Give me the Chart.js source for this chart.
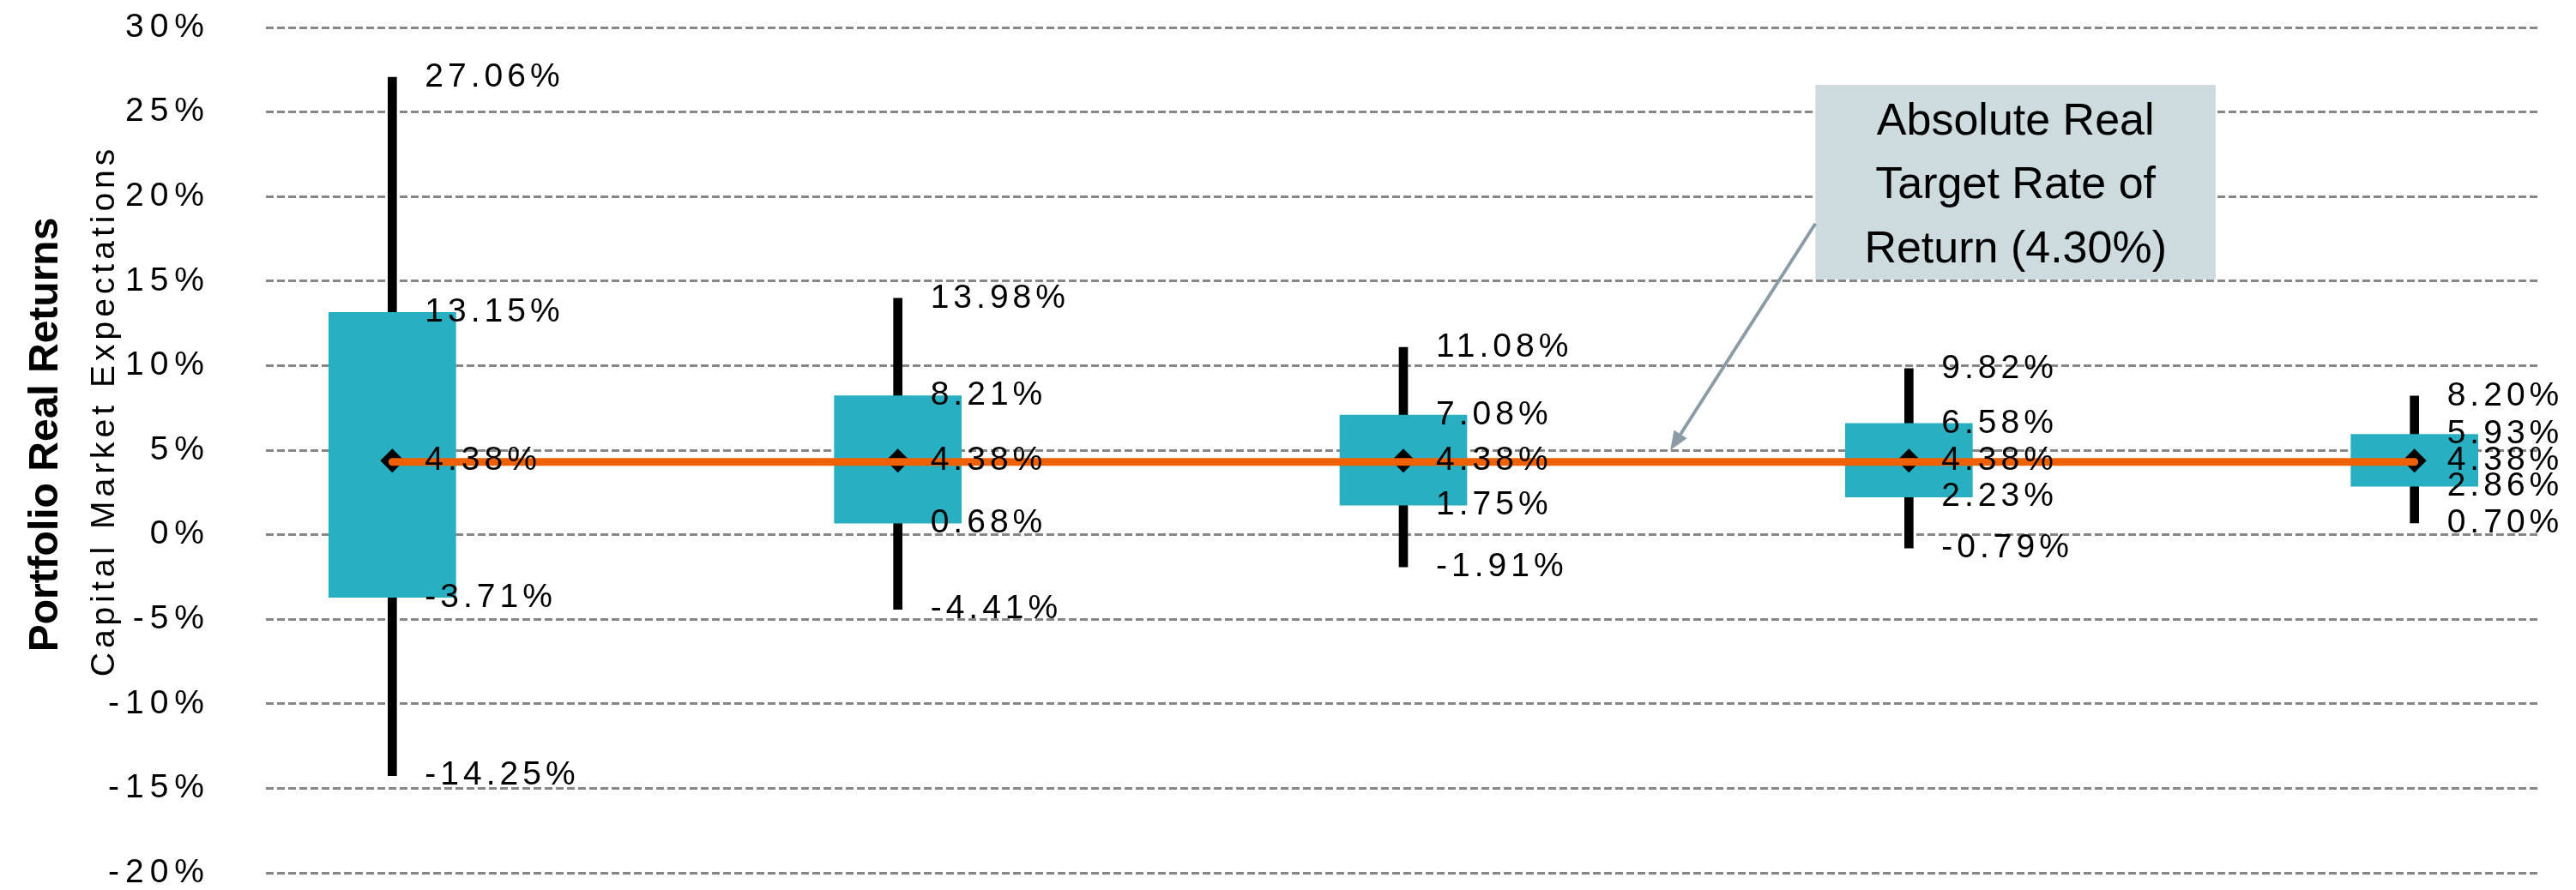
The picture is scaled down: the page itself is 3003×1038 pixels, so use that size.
<!DOCTYPE html>
<html lang="en">
<head>
  <meta charset="UTF-8">
  <title>Portfolio Real Returns</title>
  <script src="https://cdn.jsdelivr.net/npm/chart.js"></script>
  <style>
    html, body { margin: 0; padding: 0; background: #fff; }
  </style>
</head>
<body>

<canvas id="myChart" width="3003" height="1038"></canvas>

<script>
  // one box per column, all values in %
  var positions = [0, 1, 2, 3, 4];
  var maxValues = [27.06, 13.98, 11.08, 9.82, 8.20];
  var q3Values = [13.15, 8.21, 7.08, 6.58, 5.93];
  var meanValues = [4.38, 4.38, 4.38, 4.38, 4.38];
  var q1Values = [-3.71, 0.68, 1.75, 2.23, 2.86];
  var minValues = [-14.25, -4.41, -1.91, -0.79, 0.70];
  var targetRate = 4.30;
  var yTicks = [-20, -15, -10, -5, 0, 5, 10, 15, 20, 25, 30];
  var noteLines = ['Absolute Real', 'Target Rate of', 'Return (4.30%)'];

  // callout box + arrow, in data units
  var note = { x0: 2.815, x1: 3.607, yTop: 26.6, yBottom: 15.1, fromX: 2.815, fromY: 18.4, toX: 2.528, toY: 5.0 };
  // the axis titles sit a bit above the middle of the plot (px)
  var titleShift = { y2: -18, y3: -46 };

  var fontFamily = '"Liberation Sans", Arial, sans-serif';
  Chart.defaults.font.family = fontFamily;
  Chart.defaults.color = '#000';

  // loose letter spacing on the axis text, none on the bold title (drawn after datasets)
  var spacingPlugin = {
    id: 'spacing',
    afterLayout: function(chart) {
      Object.keys(titleShift).forEach(function(id) {
        var s = chart.scales[id];
        s.top += titleShift[id];
        s.bottom += titleShift[id];
      });
      var ys = chart.scales.y;
      if (!ys._spaced) {
        var orig = ys.drawLabels;
        ys.drawLabels = function(area) {
          var c = this.ctx, prev = c.letterSpacing;
          c.letterSpacing = '7px';
          orig.call(this, area);
          c.letterSpacing = prev;
        };
        ys._spaced = true;
      }
    },
    beforeDraw: function(chart) { chart.ctx.letterSpacing = '5px'; },
    afterDatasetsDraw: function(chart) { chart.ctx.letterSpacing = '0px'; }
  };

  var calloutPlugin = {
    id: 'callout',
    afterDraw: function(chart) {
      var ctx = chart.ctx, xs = chart.scales.x, ys = chart.scales.y;
      var left = xs.getPixelForValue(note.x0), right = xs.getPixelForValue(note.x1);
      var top = ys.getPixelForValue(note.yTop), bottom = ys.getPixelForValue(note.yBottom);
      ctx.save();
      ctx.letterSpacing = '0px';
      ctx.fillStyle = '#CDDBDF';
      ctx.fillRect(left, top, right - left, bottom - top);

      ctx.fillStyle = '#000';
      ctx.font = '52px ' + fontFamily;
      ctx.textAlign = 'center';
      ctx.textBaseline = 'alphabetic';
      var cx = (left + right) / 2, cy = (top + bottom) / 2;
      noteLines.forEach(function(t, i) {
        ctx.fillText(t, cx, cy + (i - 1) * 74.5 + 19);
      });

      // arrow
      var x1 = xs.getPixelForValue(note.fromX), y1 = ys.getPixelForValue(note.fromY);
      var x2 = xs.getPixelForValue(note.toX), y2 = ys.getPixelForValue(note.toY);
      var ang = Math.atan2(y2 - y1, x2 - x1);
      var headLen = 22, headW = 9;
      var bx = x2 - Math.cos(ang) * headLen, by = y2 - Math.sin(ang) * headLen;
      ctx.strokeStyle = '#8B9CA4';
      ctx.fillStyle = '#8B9CA4';
      ctx.lineWidth = 4;
      ctx.beginPath();
      ctx.moveTo(x1, y1);
      ctx.lineTo(bx, by);
      ctx.stroke();
      ctx.beginPath();
      ctx.moveTo(x2, y2);
      ctx.lineTo(bx + Math.sin(ang) * headW, by - Math.cos(ang) * headW);
      ctx.lineTo(bx - Math.sin(ang) * headW, by + Math.cos(ang) * headW);
      ctx.closePath();
      ctx.fill();
      ctx.restore();
    }
  };

  var labelPlugin = {
    id: 'boxLabels',
    afterDraw: function(chart) {
      var ctx = chart.ctx, xs = chart.scales.x, ys = chart.scales.y;
      ctx.save();
      ctx.letterSpacing = '5px';
      ctx.font = '39px ' + fontFamily;
      ctx.fillStyle = '#000';
      ctx.textAlign = 'left';
      ctx.textBaseline = 'middle';
      positions.forEach(function(p, i) {
        var x = xs.getPixelForValue(p) + 38;
        [maxValues[i], q3Values[i], meanValues[i], q1Values[i], minValues[i]].forEach(function(v) {
          ctx.fillText(v.toFixed(2) + '%', x, ys.getPixelForValue(v));
        });
      });
      ctx.restore();
    }
  };

  function fixedWidth(w) {
    return function(scale) {
      scale.width = w;
      scale.paddingTop = 0;
      scale.paddingBottom = 0;
    };
  }

  var ctx = document.getElementById('myChart');

  new Chart(ctx, {
    type: 'bar',
    data: {
      datasets: [
        {
          type: 'line',
          label: 'Target',
          data: [{ x: positions[0], y: targetRate }, { x: positions[positions.length - 1], y: targetRate }],
          borderColor: '#EF6100',
          borderWidth: 9,
          borderCapStyle: 'round',
          pointRadius: 0,
          order: 0
        },
        {
          type: 'line',
          label: 'Mean',
          data: positions.map(function(p, i) { return { x: p, y: meanValues[i] }; }),
          showLine: false,
          pointStyle: 'rectRot',
          pointRadius: 14,
          pointBackgroundColor: '#000',
          pointBorderWidth: 0,
          order: 1
        },
        {
          label: 'Box',
          data: positions.map(function(p, i) { return { x: p, y: [q1Values[i], q3Values[i]] }; }),
          backgroundColor: '#29AFC2',
          grouped: false,
          barPercentage: 1,
          categoryPercentage: 1,
          maxBarThickness: 148,
          order: 2
        },
        {
          label: 'Range',
          data: positions.map(function(p, i) { return { x: p, y: [minValues[i], maxValues[i]] }; }),
          backgroundColor: '#000',
          grouped: false,
          barPercentage: 1,
          categoryPercentage: 1,
          maxBarThickness: 10,
          order: 3
        }
      ]
    },
    options: {
      responsive: false,
      animation: false,
      layout: { padding: { left: 0, right: 41, top: 32, bottom: 20 } },
      plugins: {
        legend: { display: false },
        tooltip: { enabled: false }
      },
      scales: {
        x: {
          type: 'linear',
          display: false,
          offset: false,
          min: -0.25,
          max: 4.25,
          afterBuildTicks: function(scale) {
            scale.ticks = positions.map(function(v) { return { value: v }; });
          }
        },
        y: {
          type: 'linear',
          position: 'left',
          weight: 0,
          min: -20,
          max: 30,
          afterBuildTicks: function(scale) {
            scale.ticks = yTicks.map(function(v) { return { value: v }; });
          },
          afterFit: fixedWidth(185),
          grid: { color: '#878787', lineWidth: 3, drawTicks: false },
          border: { display: false, dash: [9, 4] },
          ticks: {
            padding: 65,
            color: '#000',
            font: { size: 39, lineHeight: 1 },
            callback: function(v) { return v + '%'; }
          }
        },
        y3: {
          type: 'linear',
          position: 'left',
          weight: 1,
          afterFit: fixedWidth(50),
          grid: { display: false },
          border: { display: false },
          ticks: { display: false },
          title: {
            display: true,
            text: 'Capital Market Expectations',
            color: '#000',
            font: { size: 39, lineHeight: 1 },
            padding: { top: 28, bottom: 0 }
          }
        },
        y2: {
          type: 'linear',
          position: 'left',
          weight: 2,
          afterFit: fixedWidth(75),
          grid: { display: false, z: 1 },
          border: { display: false },
          ticks: { display: false },
          title: {
            display: true,
            text: 'Portfolio Real Returns',
            color: '#000',
            font: { size: 48, weight: 'bold', lineHeight: 1 },
            padding: { top: 30, bottom: 0 }
          }
        }
      }
    },
    plugins: [spacingPlugin, calloutPlugin, labelPlugin]
  });
</script>
</body>
</html>
